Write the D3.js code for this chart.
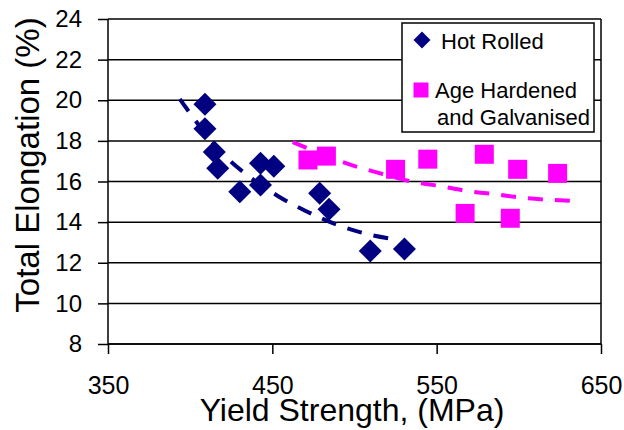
<!DOCTYPE html>
<html>
  <head>
    <meta charset="utf-8">
    <title>Elongation vs Yield Strength</title>
    <script src="https://d3js.org/d3.v7.min.js"></script>
    <style>
      body { margin: 0; background: #fff; }
      text { font-family: "Liberation Sans", Arial, sans-serif; fill: #000; }
    </style>
  </head>
  <body>
    <svg width="624" height="430"></svg>

    <script>
      // data
      const hotX = [409, 409, 414.7, 416.8, 430.2, 442.8, 450.9, 442.8, 478.8, 484.5, 509.6, 530.4];
      const hotY = [19.8, 18.6, 17.45, 16.65, 15.5, 16.9, 16.75, 15.83, 15.42, 14.63, 12.58, 12.68];

      const ageX = [471.7, 482.9, 525, 544.6, 579, 599.3, 623.6, 567.3, 594.8];
      const ageY = [17.06, 17.25, 16.6, 17.1, 17.34, 16.6, 16.4, 14.43, 14.19];

      // trendlines
      const hotTrendX = [393.7, 422.3, 436.3, 453.3, 470.3, 489.7, 508.0, 527.4];
      const hotTrendY = [20.06, 17.16, 16.22, 15.29, 14.55, 13.86, 13.41, 13.12];
      const ageTrendX = [462.4, 500.1, 517.1, 533.5, 551.7, 568.7, 585.1, 603.3, 620.4, 635.0];
      const ageTrendY = [17.94, 16.76, 16.37, 16.02, 15.78, 15.53, 15.38, 15.19, 15.09, 15.04];

      const xTicks = [350, 450, 550, 650];
      const yTicks = [8, 10, 12, 14, 16, 18, 20, 22, 24];

      const seriesNames = ["Hot Rolled", "Age Hardened", "and Galvanised"];

      const hot = hotX.map((d, i) => ({ x: d, y: hotY[i] }));
      const age = ageX.map((d, i) => ({ x: d, y: ageY[i] }));
      const hotTrend = hotTrendX.map((d, i) => ({ x: d, y: hotTrendY[i] }));
      const ageTrend = ageTrendX.map((d, i) => ({ x: d, y: ageTrendY[i] }));

      const margin = { top: 19, left: 108 };
      const innerWidth = 493;
      const innerHeight = 325;

      const x = d3.scaleLinear().domain([350, 650]).range([0, innerWidth]);
      const y = d3.scaleLinear().domain([8, 24]).range([innerHeight, 0]);

      const svg = d3.select("svg");
      const g = svg.append("g")
        .attr("transform", `translate(${margin.left},${margin.top})`);

      // gridlines
      g.append("g")
        .selectAll("line")
        .data(yTicks)
        .join("line")
        .attr("x1", 0)
        .attr("x2", innerWidth)
        .attr("y1", d => y(d))
        .attr("y2", d => y(d))
        .attr("stroke", "#000")
        .attr("stroke-width", 1.5);

      // right border
      g.append("line")
        .attr("x1", innerWidth).attr("x2", innerWidth)
        .attr("y1", 0).attr("y2", innerHeight)
        .attr("stroke", "#000")
        .attr("stroke-width", 1.5);

      // axes
      const yAxis = g.append("g")
        .call(d3.axisLeft(y).tickValues(yTicks).tickSize(10).tickPadding(16));
      const xAxis = g.append("g")
        .attr("transform", `translate(0,${innerHeight})`)
        .call(d3.axisBottom(x).tickValues(xTicks).tickSize(10).tickPadding(22));

      yAxis.select(".domain").attr("d", `M0,0V${innerHeight}`);
      xAxis.select(".domain").attr("d", `M0,0H${innerWidth}`);
      [yAxis, xAxis].forEach(a => {
        a.selectAll(".domain, line").attr("stroke", "#000").attr("stroke-width", 1.5);
        a.selectAll("text")
          .attr("fill", "#000")
          .style("font-family", '"Liberation Sans", Arial, sans-serif');
      });
      yAxis.selectAll("text").style("font-size", "24px");
      xAxis.selectAll("text").style("font-size", "25px");

      // markers
      const diamond = d3.symbol().type(d3.symbolSquare).size(265);
      g.append("g")
        .selectAll("path")
        .data(hot)
        .join("path")
        .attr("d", diamond)
        .attr("transform", d => `translate(${x(d.x)},${y(d.y)}) rotate(45)`)
        .attr("fill", "#000080");

      const square = d3.symbol().type(d3.symbolSquare).size(361);
      g.append("g")
        .selectAll("path")
        .data(age)
        .join("path")
        .attr("d", square)
        .attr("transform", d => `translate(${x(d.x)},${y(d.y)})`)
        .attr("fill", "#ff00ff");

      // trendlines
      const line = d3.line()
        .x(d => x(d.x))
        .y(d => y(d.y))
        .curve(d3.curveMonotoneX);

      g.append("path")
        .datum(hotTrend)
        .attr("fill", "none")
        .attr("stroke", "#000080")
        .attr("stroke-width", 4)
        .attr("stroke-dasharray", "15,12")
        .attr("d", line);

      g.append("path")
        .datum(ageTrend)
        .attr("fill", "none")
        .attr("stroke", "#ff00ff")
        .attr("stroke-width", 4)
        .attr("stroke-dasharray", "15,12")
        .attr("d", line);

      // axis titles
      svg.append("text")
        .attr("x", 352)
        .attr("y", 421)
        .attr("text-anchor", "middle")
        .style("font-size", "32px")
        .text("Yield Strength, (MPa)");

      svg.append("text")
        .attr("transform", "translate(39,165) rotate(-90)")
        .attr("text-anchor", "middle")
        .style("font-size", "33px")
        .text("Total Elongation (%)");

      // legend
      const legend = svg.append("g");
      legend.append("rect")
        .attr("x", 402)
        .attr("y", 23)
        .attr("width", 192)
        .attr("height", 109)
        .attr("fill", "#fff")
        .attr("stroke", "#000")
        .attr("stroke-width", 1.5);

      legend.append("path")
        .attr("d", d3.symbol().type(d3.symbolSquare).size(145))
        .attr("transform", "translate(422,40) rotate(45)")
        .attr("fill", "#000080");
      legend.append("text")
        .attr("x", 441)
        .attr("y", 49)
        .style("font-size", "22px")
        .text(seriesNames[0]);

      legend.append("path")
        .attr("d", d3.symbol().type(d3.symbolSquare).size(225))
        .attr("transform", "translate(421,90)")
        .attr("fill", "#ff00ff");
      legend.append("text")
        .attr("x", 435)
        .attr("y", 98)
        .style("font-size", "22px")
        .text(seriesNames[1]);
      legend.append("text")
        .attr("x", 437)
        .attr("y", 125)
        .style("font-size", "22px")
        .text(seriesNames[2]);
    </script>
  </body>
</html>
